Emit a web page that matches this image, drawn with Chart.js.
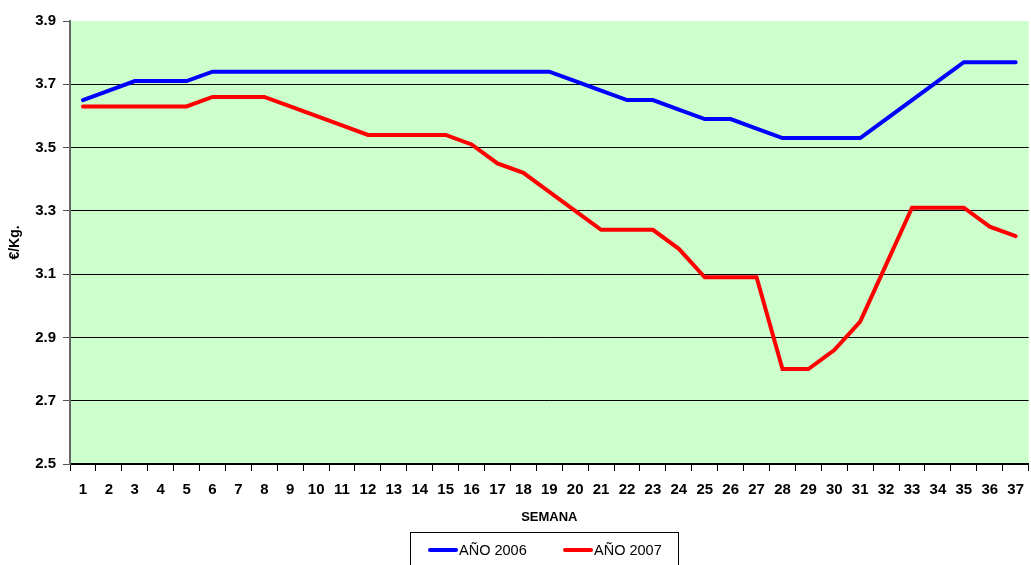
<!DOCTYPE html>
<html lang="es">
<head>
    <meta charset="UTF-8">
    <title>Precio semanal</title>
    <style>
        html, body {
            margin: 0;
            padding: 0;
            background: #fff;
            overflow: hidden;
        }
        .frame {
            position: relative;
            width: 1031px;
            height: 565px;
            overflow: hidden;
        }
        .chart-container {
            position: absolute;
            left: 0;
            top: 0;
            width: 1034px;
            height: 565px;
        }
        #leyenda {
            position: absolute;
            left: 410px;
            top: 532px;
            width: 267px;
            height: 40px;
            border: 1px solid #000;
            font-family: 'Liberation Sans', Arial, sans-serif;
            font-size: 14.5px;
            color: #000;
        }
        #leyenda .item {
            position: absolute;
            top: 9px;
            display: flex;
            align-items: center;
            white-space: nowrap;
        }
        #leyenda .linea {
            display: inline-block;
            width: 30px;
            height: 4px;
            border-radius: 2px;
            margin-right: 1px;
        }
    </style>
</head>
<body>
    <div class="frame">
        <div class="chart-container">
            <canvas id="chartArea"></canvas>
        </div>
        <div id="leyenda"></div>
    </div>

    <script src="https://cdn.jsdelivr.net/npm/chart.js@4/dist/chart.umd.min.js"></script>
    <script>
        var semanas = ['1','2','3','4','5','6','7','8','9','10','11','12','13','14','15','16','17','18','19',
                       '20','21','22','23','24','25','26','27','28','29','30','31','32','33','34','35','36','37'];

        var anio_2006 = [3.65, 3.68, 3.71, 3.71, 3.71, 3.74, 3.74, 3.74, 3.74, 3.74, 3.74, 3.74, 3.74, 3.74, 3.74, 3.74, 3.74, 3.74, 3.74,
                         3.71, 3.68, 3.65, 3.65, 3.62, 3.59, 3.59, 3.56, 3.53, 3.53, 3.53, 3.53, 3.59, 3.65, 3.71, 3.77, 3.77, 3.77];

        var anio_2007 = [3.63, 3.63, 3.63, 3.63, 3.63, 3.66, 3.66, 3.66, 3.63, 3.60, 3.57, 3.54, 3.54, 3.54, 3.54, 3.51, 3.45, 3.42, 3.36,
                         3.30, 3.24, 3.24, 3.24, 3.18, 3.09, 3.09, 3.09, 2.80, 2.80, 2.86, 2.95, 3.13, 3.31, 3.31, 3.31, 3.25, 3.22];

        var y_min = 2.5, y_max = 3.9, y_step = 0.2;

        var font_family = "'Liberation Sans', Arial, sans-serif";

        // fondo verde del area de trazado
        const plotBackground = {
            id: 'plotBackground',
            beforeDraw(chart) {
                const {ctx, chartArea} = chart;
                ctx.save();
                ctx.fillStyle = '#CCFFCC';
                ctx.fillRect(chartArea.left, chartArea.top, chartArea.right - chartArea.left, chartArea.bottom - chartArea.top);
                ctx.restore();
            }
        };

        const datasets = [
            {
                label: 'AÑO 2006',
                data: anio_2006,
                borderColor: '#0000FF',
                backgroundColor: '#0000FF',
                borderWidth: 4,
                pointRadius: 0,
                tension: 0,
                borderCapStyle: 'round'
            },
            {
                label: 'AÑO 2007',
                data: anio_2007,
                borderColor: '#FF0000',
                backgroundColor: '#FF0000',
                borderWidth: 4,
                pointRadius: 0,
                tension: 0,
                borderCapStyle: 'round'
            }
        ];

        const config = {
            type: 'line',
            data: {
                labels: semanas,
                datasets: datasets
            },
            plugins: [plotBackground],
            options: {
                responsive: true,
                maintainAspectRatio: false,
                animation: false,
                layout: {
                    padding: {top: 21, right: 0, bottom: 0, left: 0}
                },
                plugins: {
                    legend: {display: false},
                    tooltip: {enabled: false}
                },
                scales: {
                    x: {
                        offset: true,
                        afterFit: function(axis) { axis.height = 101; },
                        grid: {
                            drawOnChartArea: false,
                            drawTicks: true,
                            tickLength: 7,
                            tickColor: '#000',
                            offset: true
                        },
                        border: {color: '#000', width: 1.5},
                        ticks: {
                            color: '#000',
                            padding: 10,
                            maxRotation: 0,
                            autoSkip: false,
                            font: {family: font_family, size: 15, weight: 'bold'}
                        },
                        title: {
                            display: true,
                            text: 'SEMANA',
                            color: '#000',
                            padding: {top: 0, bottom: 40},
                            font: {family: font_family, size: 13, weight: 'bold'}
                        }
                    },
                    y: {
                        min: y_min,
                        max: y_max,
                        afterFit: function(axis) { axis.width = 70; },
                        grid: {
                            color: function(c) { return c.tick && c.tick.value >= y_max ? 'rgba(0,0,0,0)' : '#000'; },
                            lineWidth: 1,
                            tickLength: 7,
                            tickColor: '#555'
                        },
                        border: {color: '#666', width: 2},
                        ticks: {
                            stepSize: y_step,
                            color: '#000',
                            padding: 7,
                            font: {family: font_family, size: 15, weight: 'bold'},
                            callback: function(v) { return Number(v).toFixed(1); }
                        },
                        title: {
                            display: true,
                            text: '€/Kg.',
                            color: '#000',
                            padding: {top: 7, bottom: 0},
                            font: {family: font_family, size: 14, weight: 'bold'}
                        }
                    }
                }
            }
        };

        var myChart = new Chart(document.getElementById('chartArea'), config);

        // leyenda con recuadro, hecha a partir de los datasets
        var leyenda = document.getElementById('leyenda');
        var lefts = [17, 152];
        myChart.data.datasets.forEach(function(ds, i) {
            var item = document.createElement('div');
            item.className = 'item';
            item.style.left = lefts[i] + 'px';
            var linea = document.createElement('span');
            linea.className = 'linea';
            linea.style.background = ds.borderColor;
            item.appendChild(linea);
            item.appendChild(document.createTextNode(ds.label));
            leyenda.appendChild(item);
        });
    </script>
</body>
</html>
